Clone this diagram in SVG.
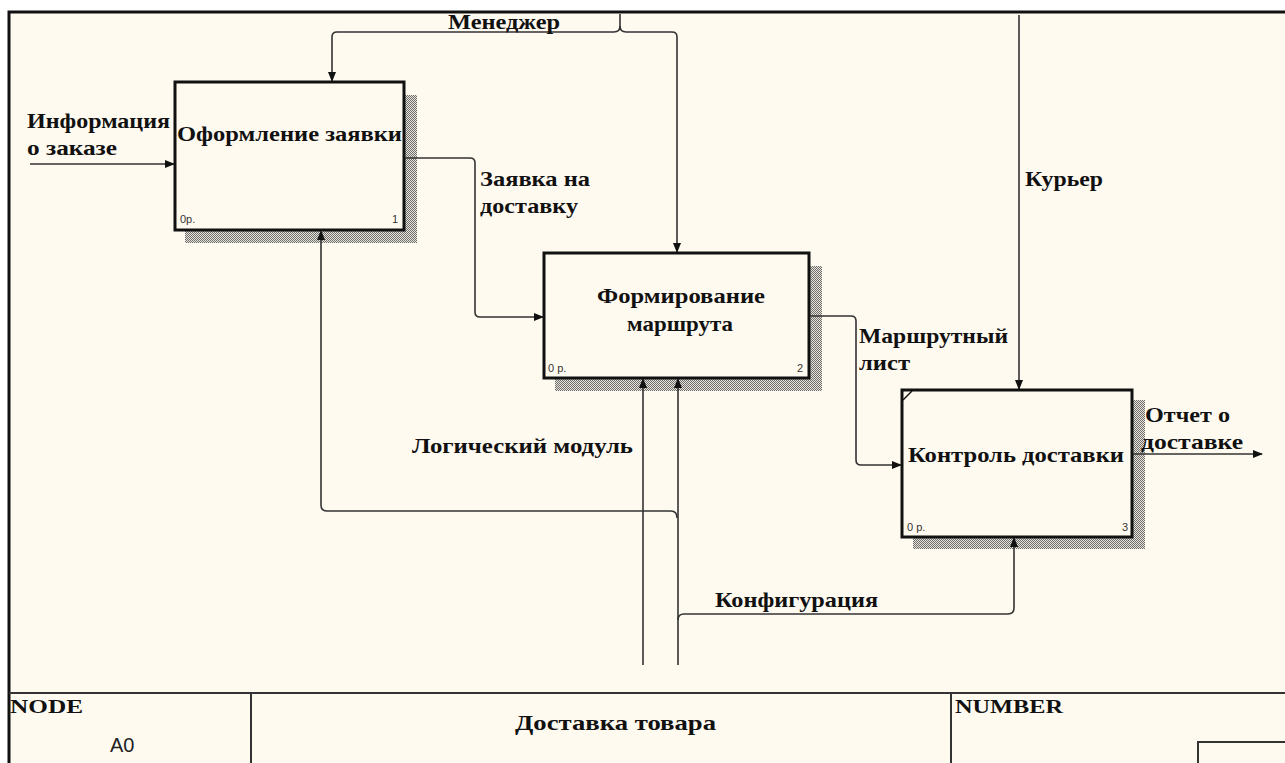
<svg xmlns="http://www.w3.org/2000/svg" width="1285" height="763" viewBox="0 0 1285 763">
<style>
.lbl{font-family:"Liberation Serif","Times New Roman",serif;font-weight:bold;font-size:21px;fill:#111}
.ttl{font-family:"Liberation Serif","Times New Roman",serif;font-weight:bold;font-size:21px;fill:#111}
.small{font-family:"Liberation Sans",Arial,sans-serif;font-size:11px;fill:#333}
.box{fill:#fffaf0;stroke:#111;stroke-width:3}
.con{fill:none;stroke:#333;stroke-width:1.6}
.frame{fill:none;stroke:#333;stroke-width:2}
.shadow{fill:url(#hatch)}
</style>
<defs>
<pattern id="hatch" width="2" height="2" patternUnits="userSpaceOnUse">
<rect width="2" height="2" fill="#e8e4da"/>
<rect width="1" height="1" fill="#6e6e6e"/>
<rect x="1" y="1" width="1" height="1" fill="#6e6e6e"/>
</pattern>
<marker id="arr" markerWidth="10" markerHeight="8" refX="9" refY="4" orient="auto" markerUnits="userSpaceOnUse">
<path d="M0,0 L10,4 L0,8 Z" fill="#111"/>
</marker>
</defs>
<rect x="0" y="0" width="1285" height="763" fill="#ffffff"/>
<rect x="9" y="12" width="1276" height="751" fill="#fffaf0"/>
<path d="M9,763 V12 H1285" fill="none" stroke="#111" stroke-width="3"/>

<g id="title-block">
<path class="frame" d="M9,693 H1285 M251,693 V763 M951,693 V763 M1198,763 V742 H1285"/>
<text class="ttl" x="10" y="713" style="font-size:19px" textLength="73" lengthAdjust="spacingAndGlyphs">NODE</text>
<text x="110" y="752" style="font-family:'Liberation Sans',Arial,sans-serif;font-size:20px;fill:#222">A0</text>
<text class="ttl" x="515" y="730" textLength="201" lengthAdjust="spacingAndGlyphs">Доставка товара</text>
<text class="ttl" x="955" y="713" style="font-size:19px" textLength="108" lengthAdjust="spacingAndGlyphs">NUMBER</text>
</g>

<g id="node1">
<path class="shadow" d="M405,95 H417 V243 H185 V231 H405 Z"/>
<rect class="box" x="175" y="82" width="229" height="148"/>
<text class="lbl" x="177" y="141" textLength="225" lengthAdjust="spacingAndGlyphs">Оформление заявки</text>
<text class="small" x="180" y="223">0р.</text>
<text class="small" x="392" y="223">1</text>
</g>

<g id="node2">
<path class="shadow" d="M810,266 H822 V391 H555 V379 H810 Z"/>
<rect class="box" x="544" y="253" width="265" height="125"/>
<text class="lbl" x="597" y="303" textLength="168" lengthAdjust="spacingAndGlyphs">Формирование</text>
<text class="lbl" x="627" y="331" textLength="106" lengthAdjust="spacingAndGlyphs">маршрута</text>
<text class="small" x="548" y="372">0 р.</text>
<text class="small" x="797" y="372">2</text>
</g>

<g id="node3">
<path class="shadow" d="M1133,400 H1145 V549 H913 V538 H1133 Z"/>
<rect class="box" x="902" y="390" width="230" height="147"/>
<path d="M903,400 L912,391" stroke="#111" stroke-width="1.5"/>
<text class="lbl" x="908" y="462" textLength="216" lengthAdjust="spacingAndGlyphs">Контроль доставки</text>
<text class="small" x="907" y="531">0 р.</text>
<text class="small" x="1122" y="531">3</text>
</g>

<g id="connectors">
<path class="con" d="M30,164 H174" marker-end="url(#arr)"/>
<path class="con" d="M620,14 V26 Q620,32 614,32 H337 Q332,32 332,37 V81" marker-end="url(#arr)"/>
<path class="con" d="M620,26 Q620,32 626,32 H672 Q677,32 677,37 V252" marker-end="url(#arr)"/>
<path class="con" d="M405,158 H470 Q475,158 475,163 V312 Q475,317 480,317 H543" marker-end="url(#arr)"/>
<path class="con" d="M810,316 H851 Q856,316 856,321 V460 Q856,465 861,465 H901" marker-end="url(#arr)"/>
<path class="con" d="M1019,15 V389" marker-end="url(#arr)"/>
<path class="con" d="M1133,454 H1262" marker-end="url(#arr)"/>
<path class="con" d="M643,665 V379" marker-end="url(#arr)"/>
<path class="con" d="M678,665 V379" marker-end="url(#arr)"/>
<path class="con" d="M677,518 Q677,511 671,511 H327 Q321,511 321,505 V231" marker-end="url(#arr)"/>
<path class="con" d="M678,620 Q678,614 684,614 H1008 Q1014,614 1014,608 V538" marker-end="url(#arr)"/>
</g>

<g id="labels">
<text class="lbl" x="448" y="29" textLength="112" lengthAdjust="spacingAndGlyphs">Менеджер</text>
<text class="lbl" x="27" y="128" textLength="143" lengthAdjust="spacingAndGlyphs">Информация</text>
<text class="lbl" x="27" y="155" textLength="90" lengthAdjust="spacingAndGlyphs">о заказе</text>
<text class="lbl" x="480" y="186" textLength="110" lengthAdjust="spacingAndGlyphs">Заявка на</text>
<text class="lbl" x="480" y="213" textLength="98" lengthAdjust="spacingAndGlyphs">доставку</text>
<text class="lbl" x="1025" y="186" textLength="78" lengthAdjust="spacingAndGlyphs">Курьер</text>
<text class="lbl" x="859" y="343" textLength="149" lengthAdjust="spacingAndGlyphs">Маршрутный</text>
<text class="lbl" x="859" y="370" textLength="51" lengthAdjust="spacingAndGlyphs">лист</text>
<text class="lbl" x="1145" y="422" textLength="85" lengthAdjust="spacingAndGlyphs">Отчет о</text>
<text class="lbl" x="1141" y="449" textLength="102" lengthAdjust="spacingAndGlyphs">доставке</text>
<text class="lbl" x="412" y="453" textLength="221" lengthAdjust="spacingAndGlyphs">Логический модуль</text>
<text class="lbl" x="715" y="607" textLength="163" lengthAdjust="spacingAndGlyphs">Конфигурация</text>
</g>
</svg>
